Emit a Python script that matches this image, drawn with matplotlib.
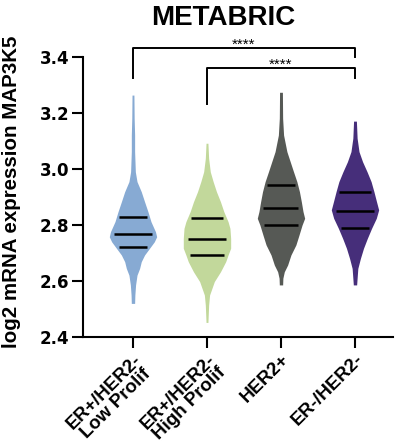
import numpy as np
import matplotlib
matplotlib.use("Agg")
import matplotlib.pyplot as plt

# === METABRIC MAP3K5 expression by subtype ===
groups = ["ER+/HER2-\nLow Prolif", "ER+/HER2-\nHigh Prolif", "HER2+", "ER-/HER2-"]
colors = ["#87AAD3", "#C2D89B", "#565955", "#462E7A"]

# density outline per group: expression levels and relative width (max = 1)
lowprolif_y = [3.264, 3.181, 3.121, 3.062, 2.990, 2.955, 2.919, 2.883, 2.848, 2.812,
               2.776, 2.758, 2.740, 2.717, 2.693, 2.669, 2.645, 2.621, 2.586, 2.550, 2.520]
lowprolif_w = [0.04, 0.05, 0.07, 0.07, 0.10, 0.17, 0.35, 0.49, 0.63, 0.76,
               0.95, 1.00, 0.90, 0.70, 0.49, 0.35, 0.28, 0.17, 0.11, 0.08, 0.07]

highprolif_y = [3.092, 3.038, 2.990, 2.955, 2.919, 2.883, 2.848, 2.812, 2.788, 2.752,
                2.717, 2.693, 2.669, 2.633, 2.598, 2.574, 2.550, 2.514, 2.452]
highprolif_w = [0.04, 0.07, 0.14, 0.26, 0.40, 0.57, 0.71, 0.89, 0.97, 1.00,
                1.00, 0.89, 0.79, 0.57, 0.31, 0.21, 0.11, 0.07, 0.04]

her2_y = [3.274, 3.181, 3.121, 3.062, 3.026, 2.990, 2.955, 2.919, 2.883, 2.848,
          2.824, 2.800, 2.764, 2.729, 2.693, 2.657, 2.633, 2.610, 2.586]
her2_w = [0.06, 0.07, 0.11, 0.25, 0.39, 0.53, 0.67, 0.78, 0.86, 0.93,
          1.00, 0.89, 0.76, 0.63, 0.42, 0.28, 0.14, 0.08, 0.07]

tn_y = [3.171, 3.110, 3.062, 3.026, 2.990, 2.955, 2.919, 2.883, 2.854, 2.824,
        2.788, 2.752, 2.717, 2.681, 2.645, 2.610, 2.586]
tn_w = [0.06, 0.09, 0.17, 0.32, 0.51, 0.68, 0.80, 0.91, 1.00, 0.90,
        0.70, 0.52, 0.36, 0.23, 0.12, 0.09, 0.07]

# quartiles (Q1, median, Q3)
q1 = [2.721, 2.692, 2.799, 2.788]
median = [2.767, 2.751, 2.862, 2.851]
q3 = [2.829, 2.825, 2.944, 2.918]

outlines = [(lowprolif_y, lowprolif_w), (highprolif_y, highprolif_w),
            (her2_y, her2_w), (tn_y, tn_w)]

plt.rcParams["font.family"] = ["Liberation Sans", "DejaVu Sans"]
plt.rcParams["font.weight"] = "bold"

fig = plt.figure(figsize=(3.95, 4.45), dpi=100)
ax = fig.add_axes([0.210, 0.2427, 0.785, 0.6292])

half = 0.32
for i, (ys, ws) in enumerate(outlines):
    ys = np.array(ys)
    ws = np.array(ws) * half
    order = np.argsort(ys)
    ys, ws = ys[order], ws[order]
    ax.fill_betweenx(ys, i - ws, i + ws, color=colors[i], linewidth=0, zorder=2)
    for q in (q1[i], median[i], q3[i]):
        w = np.interp(q, ys, ws) * 0.82
        ax.plot([i - w, i + w], [q, q], color="black", lw=1.8,
                solid_capstyle="butt", zorder=3)

# significance brackets
def bracket(x0, x1, y_top, y0, y1, label):
    ax.plot([x0, x0, x1, x1], [y0, y_top, y_top, y1], color="black", lw=1.4,
            clip_on=False, zorder=4)
    ax.text((x0 + x1) / 2, y_top - 0.012, label, ha="center", va="bottom",
            fontsize=11, fontweight="normal", clip_on=False)

bracket(0, 3, 3.432, 3.325, 3.400, "****")
bracket(1, 3, 3.361, 3.232, 3.325, "****")

ax.set_xlim(-0.676, 3.514)
ax.set_ylim(2.4, 3.4)
ax.set_yticks([2.4, 2.6, 2.8, 3.0, 3.2, 3.4])
ax.set_xticks(range(len(groups)))
ax.set_xticklabels(groups, rotation=45, ha="right", rotation_mode="anchor",
                   multialignment="center", fontsize=13.5, fontweight="bold",
                   linespacing=0.95)
for lab in ax.get_yticklabels():
    lab.set_fontsize(12)
    lab.set_fontweight("bold")
    lab.set_family("DejaVu Sans")
ax.tick_params(axis="both", direction="out", length=8, width=1.5)
ax.tick_params(axis="y", pad=2)
ax.tick_params(axis="x", pad=2)
for s in ("top", "right"):
    ax.spines[s].set_visible(False)
for s in ("left", "bottom"):
    ax.spines[s].set_linewidth(1.5)

ax.set_ylabel("log2 mRNA expression MAP3K5", fontsize=14.8, fontweight="bold")
ax.yaxis.set_label_coords(-0.20, 0.52)
fig.text(223 / 395, 1 - 18 / 445, "METABRIC", ha="center", va="center",
         fontsize=20, fontweight="bold")

fig.savefig("out.png", dpi=100)
